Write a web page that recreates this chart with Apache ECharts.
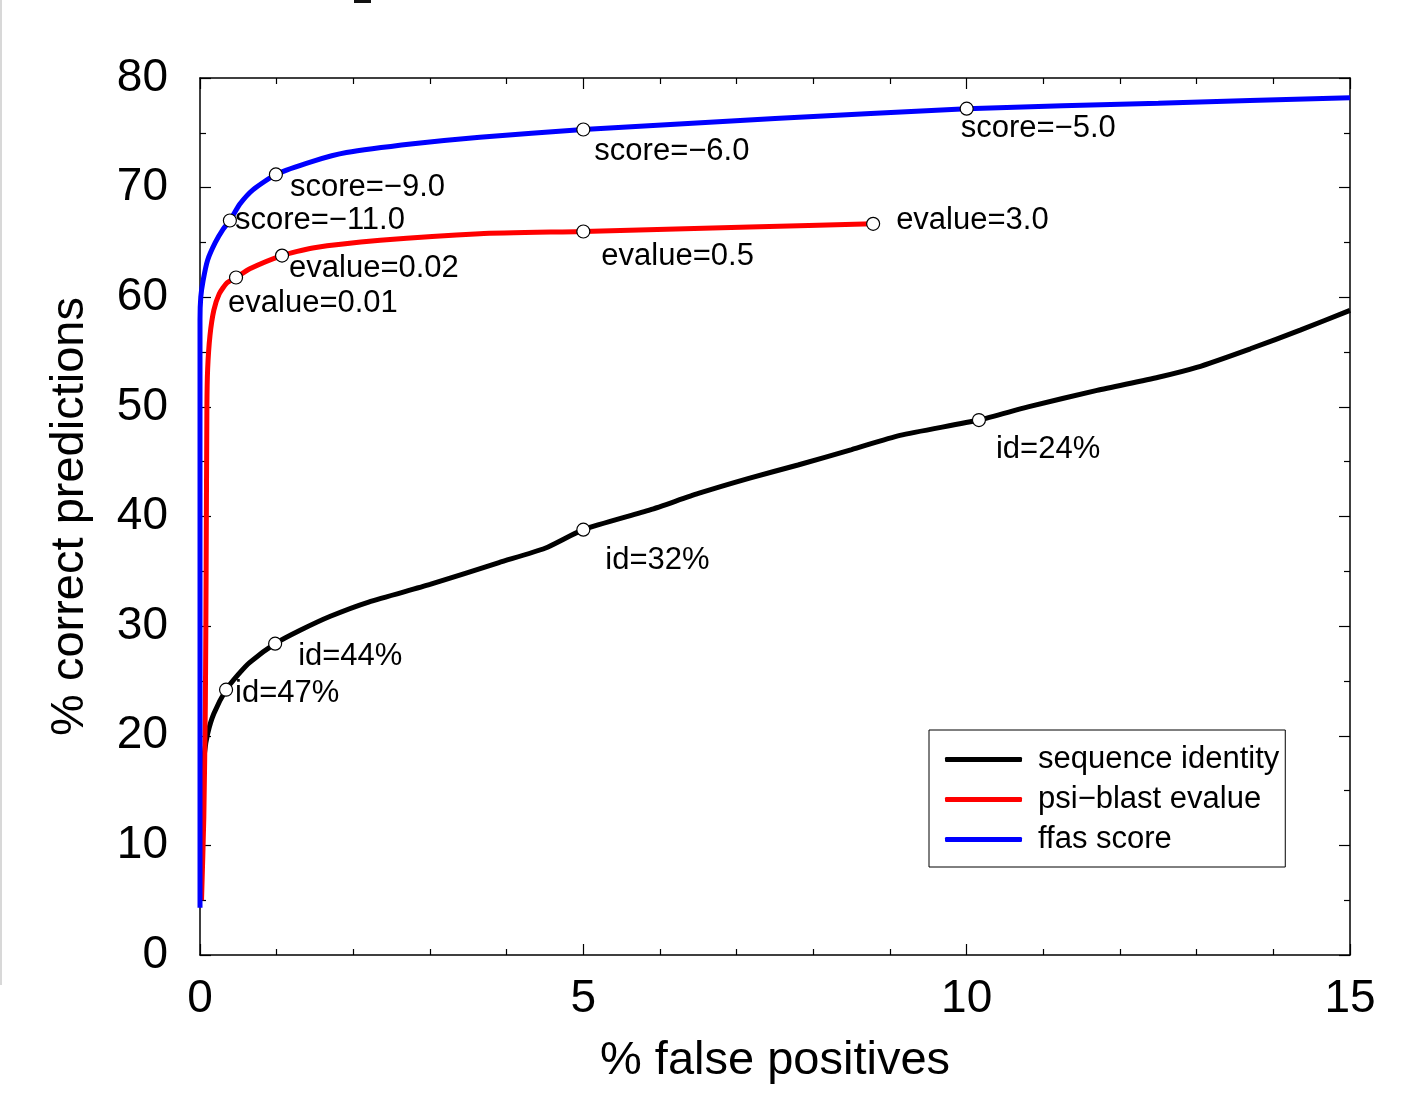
<!DOCTYPE html>
<html>
<head>
<meta charset="utf-8">
<title>ROC-like comparison</title>
<script src="https://cdn.jsdelivr.net/npm/echarts@6/dist/echarts.min.js"></script>
<style>
  html, body { margin: 0; padding: 0; background: #fff; }
  #chart { width: 1402px; height: 1102px; }
</style>
</head>
<body>
<div id="chart"></div>
<script>
// --- data (x: % false positives, y: % correct predictions) ---
const seqIdX = [0.03, 0.06, 0.1, 0.18, 0.34, 0.5, 0.65, 0.98, 1.3, 1.7, 2.2, 3.0, 3.9, 4.5, 5.0, 5.87, 6.5, 7.17, 7.8, 8.5, 9.13, 10.16, 10.8, 11.7, 12.5, 13.0, 13.7, 14.35, 15.0];
const seqIdY = [15.0, 18.5, 20.2, 22.0, 24.2, 25.6, 26.7, 28.4, 29.6, 30.9, 32.2, 33.8, 35.8, 37.1, 38.8, 40.6, 42.1, 43.5, 44.7, 46.1, 47.4, 48.8, 50.0, 51.5, 52.7, 53.6, 55.3, 57.0, 58.8];

const psiX = [0.02, 0.05, 0.07, 0.08, 0.09, 0.1, 0.13, 0.18, 0.25, 0.35, 0.47, 0.65, 1.07, 1.47, 2.35, 3.65, 5.0, 7.17, 8.78];
const psiY = [5.0, 12.6, 23.0, 35.0, 50.0, 53.5, 56.5, 58.8, 60.3, 61.3, 61.8, 62.6, 63.8, 64.5, 65.2, 65.8, 66.0, 66.4, 66.7];

const ffasX = [0.0, 0.0, 0.01, 0.04, 0.1, 0.2, 0.3, 0.39, 0.52, 0.69, 0.99, 1.47, 1.91, 2.78, 3.65, 5.0, 7.5, 10.0, 12.5, 15.0];
const ffasY = [4.3, 58.0, 60.0, 61.5, 63.4, 65.0, 66.2, 67.0, 68.5, 69.8, 71.2, 72.4, 73.2, 74.0, 74.6, 75.3, 76.3, 77.2, 77.7, 78.2];

// annotated threshold points
const markLabels = ['score=−11.0', 'score=−9.0', 'score=−6.0', 'score=−5.0',
                    'evalue=0.01', 'evalue=0.02', 'evalue=0.5', 'evalue=3.0',
                    'id=47%', 'id=44%', 'id=32%', 'id=24%'];
const markX = [0.39, 0.99, 5.0, 10.0, 0.47, 1.07, 5.0, 8.78, 0.34, 0.98, 5.0, 10.16];
const markY = [67.0, 71.2, 75.3, 77.2, 61.8, 63.8, 66.0, 66.7, 24.2, 28.4, 38.8, 48.8];

const seriesNames = ['sequence identity', 'psi−blast evalue', 'ffas score'];
const seriesColors = ['#000000', '#ff0000', '#0000ff'];

// label placement relative to its marker (px), purely cosmetic
const labelShift = [[5, 0], [14, 13], [11, 22], [-6, 20],
                    [-8, 26], [7, 13], [18, 25], [23, -3],
                    [9, 4], [23, 13], [22, 31], [17, 29]];

const FONT = 'Liberation Sans, Arial, Helvetica, sans-serif';

function pairs(xs, ys) {
  return xs.map((x, i) => [x, ys[i]]);
}

let chart = echarts.init(document.getElementById('chart'), null, { renderer: 'canvas' });

const frameLine = { show: true, onZero: false, lineStyle: { color: '#000', width: 1.5 } };
const tickStyle = { color: '#000', width: 1.2 };

function lineSeries(i, xs, ys) {
  return {
    name: seriesNames[i], type: 'line', data: pairs(xs, ys),
    symbol: 'none', smooth: 0.2, z: 2 + i,
    lineStyle: { color: seriesColors[i], width: 5 },
    itemStyle: { color: seriesColors[i] }
  };
}

chart.setOption({
  animation: false,
  backgroundColor: '#fff',
  textStyle: { fontFamily: FONT },
  grid: { left: 200, right: 52, top: 78, bottom: 147 },
  legend: {
    data: seriesNames.map(n => ({ name: n, icon: 'roundRect' })),
    orient: 'vertical',
    left: 929,
    top: 730,
    padding: [14, 6, 12, 16],
    itemWidth: 77,
    itemHeight: 5,
    itemGap: 9,
    borderColor: '#000',
    borderWidth: 1,
    backgroundColor: '#fff',
    textStyle: { fontSize: 31, color: '#000', fontFamily: FONT, lineHeight: 30, padding: [0, 0, 0, 11] }
  },
  xAxis: [
    {
      type: 'value', min: 0, max: 15, interval: 5, position: 'bottom',
      axisLine: frameLine,
      axisTick: { show: true, inside: true, length: 11, lineStyle: tickStyle },
      minorTick: { show: true, splitNumber: 5, length: 6, lineStyle: tickStyle },
      splitLine: { show: false },
      axisLabel: { fontSize: 46, margin: 21, color: '#000', fontFamily: FONT },
      name: '% false positives', nameLocation: 'middle', nameGap: 83,
      nameTextStyle: { fontSize: 47, color: '#000', fontFamily: FONT }
    },
    {
      type: 'value', min: 0, max: 15, interval: 5, position: 'top',
      axisLine: frameLine,
      axisTick: { show: true, inside: true, length: 11, lineStyle: tickStyle },
      minorTick: { show: true, splitNumber: 5, length: 6, lineStyle: tickStyle },
      splitLine: { show: false },
      axisLabel: { show: false }
    }
  ],
  yAxis: [
    {
      type: 'value', min: 0, max: 80, interval: 10, position: 'left',
      axisLine: frameLine,
      axisTick: { show: true, inside: true, length: 11, lineStyle: tickStyle },
      minorTick: { show: true, splitNumber: 2, length: 6, lineStyle: tickStyle },
      splitLine: { show: false },
      axisLabel: { fontSize: 46, margin: 32, color: '#000', fontFamily: FONT, padding: [10, 0, 0, 0] },
      name: '% correct predictions', nameLocation: 'middle', nameGap: 106,
      nameTextStyle: { fontSize: 47, color: '#000', fontFamily: FONT }
    },
    {
      type: 'value', min: 0, max: 80, interval: 10, position: 'right',
      axisLine: frameLine,
      axisTick: { show: true, inside: true, length: 11, lineStyle: tickStyle },
      minorTick: { show: true, splitNumber: 2, length: 6, lineStyle: tickStyle },
      splitLine: { show: false },
      axisLabel: { show: false }
    }
  ],
  series: [
    lineSeries(0, seqIdX, seqIdY),
    lineSeries(1, psiX, psiY),
    lineSeries(2, ffasX, ffasY),
    {
      name: 'thresholds', type: 'scatter', z: 6,
      symbol: 'circle', symbolSize: 13,
      itemStyle: { color: '#ffffff', opacity: 1, borderColor: '#000', borderWidth: 1.2 },
      emphasis: { disabled: true },
      label: {
        show: true, position: 'inside', align: 'left', verticalAlign: 'middle',
        formatter: '{b}', fontSize: 31, color: '#000', fontFamily: FONT
      },
      data: markLabels.map((t, i) => ({
        name: t,
        value: [markX[i], markY[i]],
        label: { offset: labelShift[i] }
      }))
    }
  ],
  graphic: [
    // leftover bits of the scanned page
    { type: 'rect', left: 0, top: 0, shape: { width: 2, height: 985 }, style: { fill: '#d8d8d8' }, silent: true },
    { type: 'rect', left: 354, top: 0, shape: { width: 17, height: 3 }, style: { fill: '#111' }, silent: true }
  ]
});
</script>
</body>
</html>
